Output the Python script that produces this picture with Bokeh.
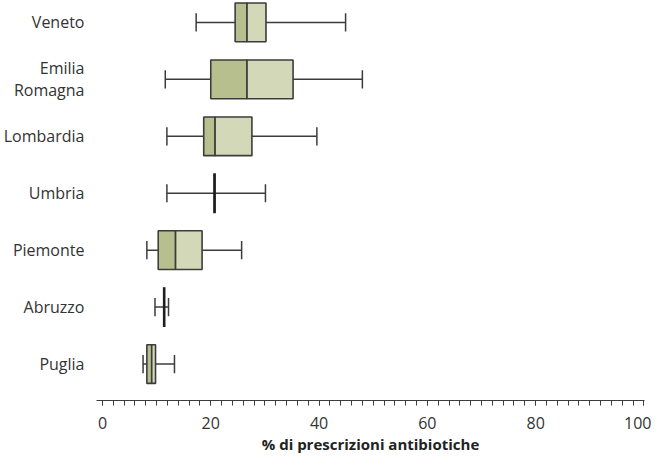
from bokeh.plotting import figure
from bokeh.models import FixedTicker, Range1d
from bokeh.embed import file_html
from bokeh.resources import INLINE

regions = ["Veneto", "Emilia\nRomagna", "Lombardia", "Umbria", "Piemonte", "Abruzzo", "Puglia"]
whisker_low = [17.3, 11.6, 11.9, 11.9, 8.2, 9.7, 7.5]
q1 = [24.5, 20.0, 18.7, 20.7, 10.3, 11.4, 8.2]
median = [26.7, 26.7, 20.8, 20.7, 13.5, 11.4, 9.1]
q3 = [30.2, 35.2, 27.6, 20.7, 18.4, 11.4, 9.8]
whisker_high = [44.9, 48.0, 39.6, 30.1, 25.7, 12.2, 13.3]
x_ticks = [0, 20, 40, 60, 80, 100]
x_minor = list(range(0, 101, 2))

n = len(regions)
ypos = [n - i for i in range(n)]

DARK = "#b7bf8e"
LIGHT = "#d3d8b9"
LINE = "#3c3c3c"
FONT = "Open Sans"

p = figure(width=651, height=456, output_backend="svg", toolbar_location=None,
           x_range=Range1d(-1.1, 100.1), y_range=Range1d(0.36, 7.385),
           min_border_left=96, min_border_right=7, min_border_top=0, min_border_bottom=56)
p.outline_line_color = None
p.xgrid.visible = False
p.ygrid.visible = False

# boxes
p.hbar(y=ypos, left=q1, right=median, height=0.68, fill_color=DARK, line_color=LINE, line_width=1.6)
p.hbar(y=ypos, left=median, right=q3, height=0.68, fill_color=LIGHT, line_color=LINE, line_width=1.6)
# whiskers
p.segment(x0=whisker_low, y0=ypos, x1=q1, y1=ypos, line_color=LINE, line_width=1.5)
p.segment(x0=q3, y0=ypos, x1=whisker_high, y1=ypos, line_color=LINE, line_width=1.5)
cap = 0.16
p.segment(x0=whisker_low, y0=[y - cap for y in ypos], x1=whisker_low, y1=[y + cap for y in ypos],
          line_color=LINE, line_width=1.5)
p.segment(x0=whisker_high, y0=[y - cap for y in ypos], x1=whisker_high, y1=[y + cap for y in ypos],
          line_color=LINE, line_width=1.5)
# medians without a box (q1 == q3) drawn as a thick tall line
flat = [i for i in range(n) if q1[i] == q3[i]]
p.segment(x0=[median[i] for i in flat], y0=[ypos[i] - 0.35 for i in flat],
          x1=[median[i] for i in flat], y1=[ypos[i] + 0.35 for i in flat],
          line_color="#1e1e1e", line_width=2.6)

# x axis
xa = p.xaxis[0]
xa.ticker = FixedTicker(ticks=x_ticks, minor_ticks=x_minor)
xa.axis_label = "% di prescrizioni antibiotiche"
xa.axis_label_text_font = FONT
xa.axis_label_text_font_style = "bold"
xa.axis_label_text_font_size = "15px"
xa.axis_label_text_color = "#222222"
xa.axis_label_standoff = 2
xa.major_label_text_font = FONT
xa.major_label_text_font_size = "16px"
xa.major_label_text_color = "#333333"
xa.major_label_standoff = 11
xa.axis_line_color = LINE
xa.axis_line_width = 1.2
xa.major_tick_line_color = LINE
xa.minor_tick_line_color = LINE
xa.major_tick_in = 0
xa.major_tick_out = 5
xa.minor_tick_in = 0
xa.minor_tick_out = 5

# y axis
ya = p.yaxis[0]
ya.ticker = FixedTicker(ticks=ypos, minor_ticks=[])
ya.major_label_overrides = {y: r for y, r in zip(ypos, regions)}
ya.major_label_text_font = FONT
ya.major_label_text_font_size = "16px"
ya.major_label_text_line_height = 1.0
ya.major_label_text_color = "#333333"
ya.axis_line_color = None
ya.major_tick_line_color = None
ya.minor_tick_line_color = None
ya.major_label_standoff = 6

open("out.html", "w").write(file_html(p, INLINE))
